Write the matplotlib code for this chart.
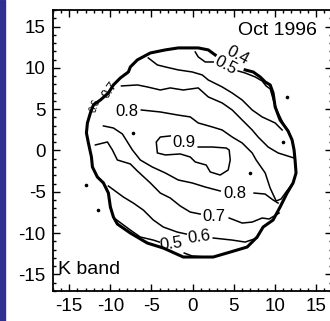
import matplotlib.pyplot as plt
from matplotlib.patches import Rectangle
from matplotlib.ticker import MultipleLocator

plt.rcParams['font.family'] = ['Liberation Sans', 'DejaVu Sans']
plt.rcParams['axes.unicode_minus'] = False

# ---- data (arcsec offsets) ----
# outer rim of the disk: the low contours (<=0.4) are all bunched here
edge_x = [6.39, 7.37, 8.22, 8.83, 9.44, 9.79, 10.04, 10.64, 11.61, 12.10, 12.34,
          12.46, 12.58, 12.22, 11.49, 10.64, 9.79, 8.58, 7.85, 6.64, 4.58, 2.51,
          0.33, -1.13, -3.56, -5.50, -7.56, -9.14, -9.62, -9.99, -10.23, -10.83,
          -11.57, -12.17, -12.29, -12.66, -12.90, -12.78, -12.42, -12.05, -11.20,
          -10.23, -9.62, -8.77, -7.80, -7.56, -6.71, -5.13, -3.31, -1.74, 0.69,
          1.91, 2.75]
edge_y = [9.75, 9.50, 8.90, 8.29, 7.93, 6.96, 5.27, 3.69, 2.36, 1.27, 0.06,
          -1.15, -2.72, -3.93, -5.15, -6.84, -8.41, -9.26, -10.47, -11.68, -12.29,
          -12.89, -12.89, -12.89, -11.80, -11.20, -9.99, -8.90, -8.05, -6.84,
          -5.15, -3.93, -3.21, -2.00, -0.79, 0.91, 2.12, 3.33, 4.54, 5.51, 6.11,
          6.96, 7.93, 8.78, 9.50, 10.11, 10.96, 11.80, 12.17, 12.41, 12.41,
          12.17, 11.56]

# 0.5 contour, upper right piece (split by its label)
c05a_x = [0.33, 0.69, 1.54, 2.51]
c05a_y = [11.92, 11.32, 10.71, 10.71]
c05b_x = [5.54, 6.39, 7.61, 8.46, 8.94, 9.44, 9.79, 10.28, 11.00, 11.61]
c05b_y = [9.62, 9.38, 8.90, 8.41, 7.81, 7.45, 6.23, 4.78, 3.33, 2.36]
# 0.5 contour, bottom piece
c05c_x = [-9.38, -7.56, -6.35, -4.77, -4.04]
c05c_y = [-8.29, -9.63, -10.47, -10.84, -11.08]
c05d_x = [-1.01, -0.04, 1.54]
c05d_y = [-12.41, -12.77, -12.89]

# 0.6 contour
c06a_x = [-5.38, -4.28, -3.31, -1.74, -0.04, 1.18, 1.91, 3.60, 4.81, 6.03, 7.25,
          8.46, 10.04, 10.89]
c06a_y = [11.20, 10.35, 10.11, 9.75, 9.50, 9.14, 8.53, 7.69, 6.96, 6.11, 4.90,
          4.06, 3.33, 2.48]
c06b_x = [-10.23, -8.41, -7.20, -5.98, -4.77, -3.56, -1.86, -0.76]
c06b_y = [-4.30, -5.63, -6.36, -7.21, -8.41, -9.26, -9.87, -10.11]
c06c_x = [2.51, 4.82, 6.40, 7.85]
c06c_y = [-10.59, -10.84, -11.08, -10.59]

# 0.7 contour
c07a_x = [-8.64, -6.70, -5.50, -3.92, -2.71, -1.13, 0.69, 1.91, 3.60, 4.82, 6.03,
          7.25, 7.97, 9.19, 10.40, 12.34]
c07a_y = [7.81, 7.93, 7.69, 7.32, 7.57, 7.32, 7.57, 6.48, 5.75, 4.90, 3.69,
          2.48, 1.63, 0.42, -0.30, -0.91]
c07b_x = [-11.81, -10.35, -9.74, -9.14, -7.56, -6.71, -5.13, -3.92, -2.71, -1.49,
          -0.28, 0.93]
c07b_y = [0.67, 1.03, 0.06, -1.15, -1.63, -2.48, -3.93, -5.15, -5.75, -6.72,
          -7.45, -7.69]
c07c_x = [4.45, 6.03, 7.25, 8.46, 9.31, 10.52]
c07c_y = [-8.17, -8.78, -8.66, -8.17, -8.29, -7.57]

# 0.8 contour
c08a_x = [-6.23, -3.92, -1.86, -0.28, 0.69, 2.39, 3.60, 4.82, 6.03, 7.25, 7.73,
          8.83, 9.43, 10.16, 10.76, 11.37, 12.10]
c08a_y = [4.90, 4.66, 4.30, 4.06, 3.33, 2.85, 2.48, 1.63, 0.91, -0.30, -1.15,
          -2.72, -4.54, -6.11, -5.87, -5.02, -4.06]
c08b_x = [10.40, 9.79, 8.82, 7.48]
c08b_y = [-6.36, -5.99, -5.27, -5.15]
c08c_x = [3.36, 1.54, -0.04, -1.74, -3.31, -4.89, -6.35, -7.31, -7.92, -8.53,
          -9.62, -10.83]
c08c_y = [-4.90, -4.42, -3.93, -3.57, -2.72, -2.00, -1.15, 0.06, 1.03, 2.00,
          2.72, 2.97]

# 0.9 contour (closed around the peak, opened at its label)
c09_x = [0.69, 2.39, 4.09, 4.45, 4.58, 4.33, 3.36, 2.15, 1.66, 0.33, -0.28,
         -1.49, -3.31, -4.28, -4.41, -3.92, -2.71]
c09_y = [0.42, 0.42, 0.30, 0.06, -1.15, -2.36, -2.97, -2.60, -1.76, -1.39,
         -0.79, -0.42, -0.54, -0.30, 1.03, 1.63, 1.76]

# isolated specks of signal
speck_x = [-7.19, 7.00, 11.49, -12.90, -11.44, 11.0]
speck_y = [2.12, -2.72, 6.48, -4.18, -7.20, 1.03]

# contour labels
lab_text = ["0.4", "0.5", "0.7", "0.6", "0.8", "0.9", "0.8", "0.7", "0.6", "0.5"]
lab_x = [5.45, 3.97, -10.0, -11.81, -8.04, -1.01, 5.18, 2.63, 0.81, -2.55]
lab_y = [11.56, 10.35, 7.3, 5.39, 4.66, 0.91, -5.15, -7.93, -10.50, -11.32]
lab_rot = [-28, -28, 55, 70, 0, 0, 0, 0, 8, 8]
lab_size = [12, 12, 9, 7, 12, 12, 12, 12, 12, 12]

fig = plt.figure(figsize=(3.30, 3.21), dpi=100)
fig.patches.append(Rectangle((0, 0), 5 / 330, 1, transform=fig.transFigure,
                             color='#2e3192', zorder=0))
ax = fig.add_axes([0.1597, 0.0935, 0.8476, 0.8754])

ax.plot(edge_x, edge_y, color='black', lw=2.2, solid_joinstyle='round')
pieces = [(c05a_x, c05a_y), (c05b_x, c05b_y), (c05c_x, c05c_y), (c05d_x, c05d_y),
          (c06a_x, c06a_y), (c06b_x, c06b_y), (c06c_x, c06c_y),
          (c07a_x, c07a_y), (c07b_x, c07b_y), (c07c_x, c07c_y),
          (c08a_x, c08a_y), (c08b_x, c08b_y), (c08c_x, c08c_y),
          (c09_x, c09_y)]
for px, py in pieces:
    ax.plot(px, py, color='black', lw=1.1)
ax.plot(speck_x, speck_y, 'o', color='black', ms=1.6)

for t, x, y, r, s in zip(lab_text, lab_x, lab_y, lab_rot, lab_size):
    ax.text(x, y, t, fontsize=s, rotation=r, ha='center', va='center')

ax.text(15.1, 14.5, "Oct 1996", fontsize=14, ha='right', va='center')
ax.text(-16.4, -14.4, "K band", fontsize=14, ha='left', va='center')

ax.set_xlim(-17, 17)
ax.set_ylim(-17, 17)
ax.xaxis.set_major_locator(MultipleLocator(5))
ax.yaxis.set_major_locator(MultipleLocator(5))
ax.xaxis.set_minor_locator(MultipleLocator(1))
ax.yaxis.set_minor_locator(MultipleLocator(1))
ax.tick_params(which='both', direction='in', top=True, right=True, width=1.0,
               labelsize=13.5, pad=5)
ax.tick_params(which='major', length=5)
ax.tick_params(which='minor', length=2.5)
for sp in ax.spines.values():
    sp.set_linewidth(1.3)

fig.savefig("out.png", dpi=100)
